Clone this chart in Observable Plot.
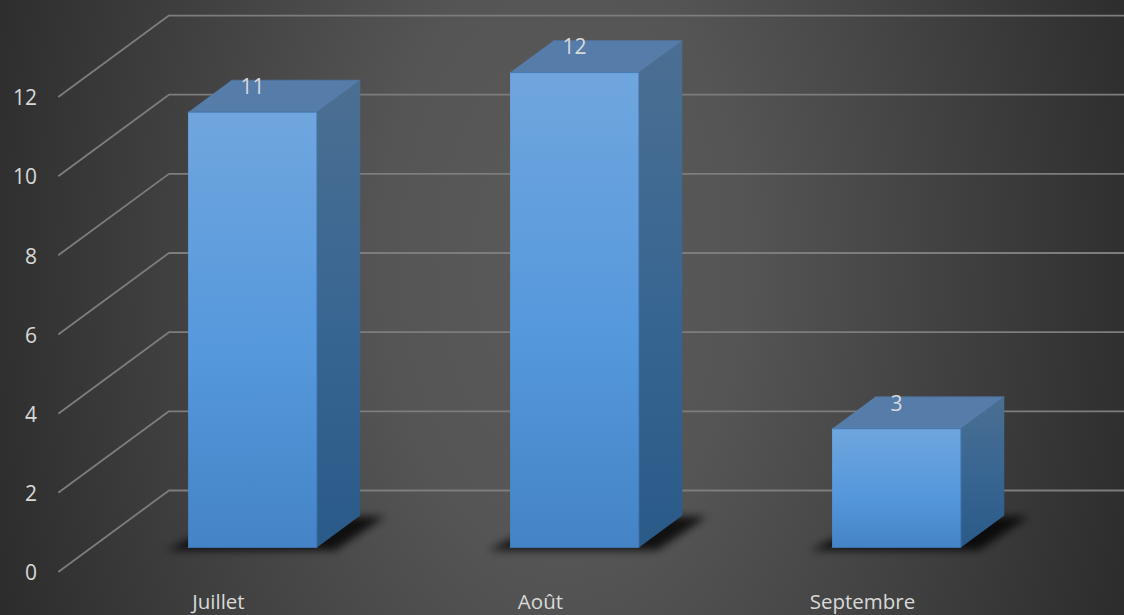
<!DOCTYPE html>
<html lang="fr">
<head>
<meta charset="utf-8">
<script src="https://cdn.jsdelivr.net/npm/d3@7"></script>
<script src="https://cdn.jsdelivr.net/npm/@observablehq/plot@0.6"></script>
<style>
  html, body { margin: 0; padding: 0; overflow: hidden; background: #333; }
  svg { display: block; }
</style>
</head>
<body>
<script>
const categories = ["Juillet", "Août", "Septembre"];
const values = [11, 12, 3];
const ticks = [0, 2, 4, 6, 8, 10, 12];

// Oblique projection: depth 0 = front of the floor, 1 = back wall.
const kx = 0.3416, ky = 2.046, barFront = 0.296, barBack = 0.69, half = 0.2;
const P = (slot, value, depth) => ({
  x: slot + (depth - barFront) * kx,
  y: value - (1 - depth) * ky
});
const poly = (id, corners) => corners.map(c => ({id, ...P(...c)}));

const grid = ticks.flatMap(t => poly(t, [[-0.5, t, 0], [-0.5, t, 1], [2.5, t, 1]]));
const bars = values.map((v, i) => ({v, i}));
const front = bars.flatMap(({v, i}) => poly(i, [[i - half, 0, barFront], [i + half, 0, barFront], [i + half, v, barFront], [i - half, v, barFront]]));
const side = bars.flatMap(({v, i}) => poly(i, [[i + half, 0, barFront], [i + half, 0, barBack], [i + half, v, barBack], [i + half, v, barFront]]));
const top_ = bars.flatMap(({v, i}) => poly(i, [[i - half, v, barFront], [i + half, v, barFront], [i + half, v, barBack], [i - half, v, barBack]]));
const shadow = bars.flatMap(({i}) => poly(i, [[i - half - 0.065, -0.05, barFront - 0.01], [i + half + 0.06, -0.05, barFront - 0.01], [i + half + 0.08, 0, barBack - 0.01], [i - half + 0.02, 0, barBack - 0.01]]));

const font = {fontFamily: "Open Sans", fontSize: 21, fill: "#d9d9d9"};

const chart = Plot.plot({
  width: 1124, height: 615,
  marginTop: 0, marginRight: 0, marginBottom: 0, marginLeft: 0,
  style: {background: "radial-gradient(ellipse 600px 1000px at 50% 42%, #5a5a5a 0%, #555555 30%, #2c2c2c 100%)", overflow: "hidden"},
  x: {axis: null, type: "linear", domain: [-0.7826, 2.7081], range: [0, 1124]},
  y: {axis: null, type: "linear", domain: [-3.158, 12.38], range: [615, 0]},
  marks: [
    Plot.line(grid, {x: "x", y: "y", z: "id", stroke: "#7d7d7d", strokeWidth: 1.8, clip: true}),
    Plot.line(shadow, {x: "x", y: "y", z: "id", fill: "#000", stroke: "none", fillOpacity: 0.8,
      render(index, scales, values, dims, ctx, next) {
        const g = next(index, scales, values, dims, ctx);
        g.setAttribute("filter", "url(#blur)");
        return g;
      }}),
    Plot.line(top_, {x: "x", y: "y", z: "id", fill: "#567ca9", stroke: "#4f77a6", strokeWidth: 0.8}),
    Plot.line(side, {x: "x", y: "y", z: "id", fill: "url(#sideGrad)", stroke: "none"}),
    Plot.line(front, {x: "x", y: "y", z: "id", fill: "url(#frontGrad)", stroke: "#4279b4", strokeWidth: 0.8}),
    Plot.text(bars, {x: "i", y: d => P(d.i, d.v, barFront).y, text: d => String(d.v), dy: -25, ...font}),
    Plot.text(ticks, {x: () => P(-0.5, 0, 0).x, y: t => P(0, t, 0).y, text: t => String(t), textAnchor: "end", dx: -22, dy: 2, ...font}),
    Plot.text(categories, {x: (d, i) => P(i, 0, 0).x, y: () => P(0, 0, 0).y, text: d => d, dx: -1.5, dy: 30.5, ...font, fontSize: 20.5})
  ]
});

chart.insertAdjacentHTML("afterbegin", `<defs>
  <linearGradient id="frontGrad" x1="0" y1="0" x2="0" y2="1">
    <stop offset="0" stop-color="#70a6de"/>
    <stop offset="0.55" stop-color="#5598dc"/>
    <stop offset="1" stop-color="#4484c6"/>
  </linearGradient>
  <linearGradient id="sideGrad" x1="0" y1="0" x2="0" y2="1">
    <stop offset="0" stop-color="#4b6f92"/>
    <stop offset="0.55" stop-color="#376592"/>
    <stop offset="1" stop-color="#2a5a88"/>
  </linearGradient>
  <filter id="blur" x="-20%" y="-40%" width="140%" height="180%"><feGaussianBlur stdDeviation="4.5"/></filter>
</defs>`);
document.body.append(chart);
</script>
</body>
</html>
